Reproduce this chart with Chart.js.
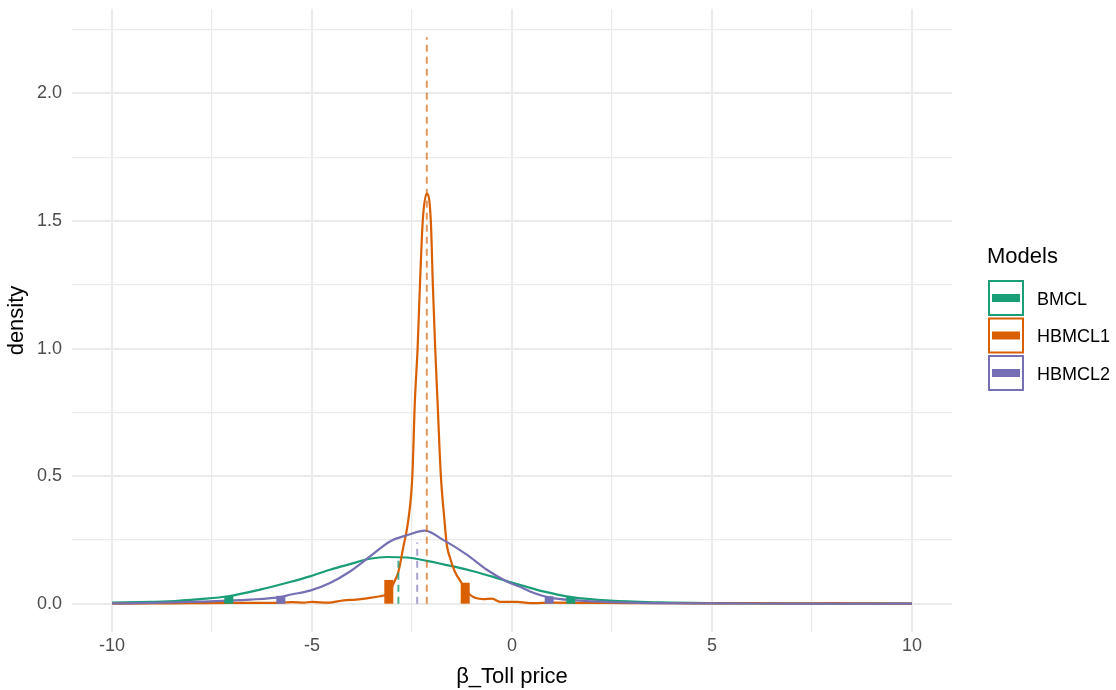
<!DOCTYPE html>
<html>
<head>
<meta charset="utf-8">
<script src="https://cdn.jsdelivr.net/npm/chart.js@4.4.1/dist/chart.umd.min.js"></script>
<style>
  body { margin: 0; background: #fff; }
  #wrap { width: 1116px; height: 690px; }
</style>
</head>
<body>
<div id="wrap"><canvas id="myChart" width="1116" height="690"></canvas></div>
<script>
// density curves
const bmclX = [-10, -9, -8.6, -7.8, -7.1, -6.3, -5.55, -5.05, -4.55, -4.05, -3.55, -3.13, -2.63, -2.13, -1.47, -0.97, -0.47, -0.05, 0.5, 0.78, 1.48, 2.45, 3.7, 5, 6, 8, 10];
const bmclY = [0.004, 0.007, 0.009, 0.018, 0.029, 0.055, 0.085, 0.107, 0.133, 0.155, 0.176, 0.183, 0.181, 0.168, 0.146, 0.127, 0.105, 0.085, 0.06, 0.048, 0.026, 0.012, 0.005, 0.002, 0.001, 0.0005, 0.0002];

const hbmcl1X = [-10, -9, -8, -7, -6, -5.5, -5.2, -5, -4.6, -4.2, -3.9, -3.63, -3.3, -3.1, -2.93, -2.84, -2.72, -2.59, -2.49, -2.43, -2.36, -2.3, -2.23, -2.13, -2.03, -1.98, -1.92, -1.86, -1.78, -1.69, -1.63, -1.55, -1.43, -1.26, -1.05, -0.72, -0.5, -0.3, 0.12, 0.53, 1, 2, 3, 4, 5, 6, 7, 8, 9, 10];
const hbmcl1Y = [0, 0.001, 0.002, 0.003, 0.003, 0.006, 0.004, 0.007, 0.004, 0.013, 0.016, 0.021, 0.029, 0.04, 0.09, 0.125, 0.22, 0.33, 0.505, 0.787, 1.0, 1.255, 1.503, 1.607, 1.503, 1.255, 1.0, 0.787, 0.505, 0.33, 0.231, 0.18, 0.126, 0.081, 0.035, 0.018, 0.02, 0.007, 0.007, 0.002, 0.004, 0.003, 0.002, 0.002, 0.001, 0.002, 0.001, 0.002, 0.001, 0];

const hbmcl2X = [-10, -9, -7.8, -6.55, -5.76, -5.55, -5.05, -4.55, -4.05, -3.55, -3.05, -2.59, -2.18, -1.72, -1.13, -0.63, -0.13, 0.2, 0.45, 0.95, 1.62, 2.45, 3.5, 5, 7, 10];
const hbmcl2Y = [0.001, 0.003, 0.008, 0.016, 0.027, 0.035, 0.051, 0.081, 0.126, 0.185, 0.244, 0.27, 0.286, 0.25, 0.192, 0.133, 0.087, 0.066, 0.048, 0.024, 0.013, 0.006, 0.002, 0.001, 0.0005, 0.0002];

// means (dashed lines) and their heights
const meanX = [-2.84, -2.13, -2.37];
const meanTop = [0.172, 2.22, 0.24];

// 2.5% / 97.5% quantile markers
const qLowX = [-7.08, -3.08, -5.78];
const qLowY = [0.03, 0.093, 0.031];
const qHighX = [1.47, -1.17, 0.93];
const qHighY = [0.027, 0.082, 0.029];

const models = ['BMCL', 'HBMCL1', 'HBMCL2'];
const colors = ['#1B9E77', '#D95F02', '#7570B3'];
const dashColors = ['rgba(27,158,119,0.8)', 'rgba(217,95,2,0.65)', 'rgba(117,112,179,0.65)'];

const xTicks = [-10, -7.5, -5, -2.5, 0, 2.5, 5, 7.5, 10];
const yTicks = [0, 0.25, 0.5, 0.75, 1, 1.25, 1.5, 1.75, 2, 2.25];

const FONT = '"Liberation Sans", Arial, sans-serif';

function pts(xs, ys) {
    return xs.map(function(x, i) { return {x: x, y: ys[i]}; });
}

function buildDatasets() {
    let ds = [];
    let curves = [[bmclX, bmclY], [hbmcl1X, hbmcl1Y], [hbmcl2X, hbmcl2Y]];
    let curveOrder = [4, 3, 2];
    curves.forEach(function(c, i) {
        ds.push({
            label: models[i],
            data: pts(c[0], c[1]),
            borderColor: colors[i],
            borderWidth: 2.2,
            pointRadius: 0,
            cubicInterpolationMode: 'monotone',
            order: curveOrder[i]
        });
    });
    // dashed mean lines
    for (let i = 0; i < 3; i++) {
        ds.push({
            data: [{x: meanX[i], y: 0}, {x: meanX[i], y: meanTop[i]}],
            borderColor: dashColors[i],
            borderWidth: 2,
            borderDash: [7, 5],
            pointRadius: 0,
            tension: 0,
            order: 1
        });
    }
    // quantile bars
    for (let i = 0; i < 3; i++) {
        [[qLowX[i], qLowY[i]], [qHighX[i], qHighY[i]]].forEach(function(q) {
            ds.push({
                data: [{x: q[0], y: 0}, {x: q[0], y: q[1]}],
                borderColor: colors[i],
                borderWidth: 9,
                borderCapStyle: 'butt',
                pointRadius: 0,
                tension: 0,
                order: 0
            });
        });
    }
    return ds;
}

// legend on the right, drawn like ggplot's
const legendPlugin = {
    id: 'modelsLegend',
    afterDraw: function(chart) {
        let c = chart.ctx;
        c.save();
        c.fillStyle = '#000';
        c.textBaseline = 'middle';
        c.textAlign = 'left';
        c.font = '22px ' + FONT;
        c.fillText('Models', 987, 257);
        c.font = '18px ' + FONT;
        for (let i = 0; i < models.length; i++) {
            let top = 281 + i * 37.5;
            c.strokeStyle = colors[i];
            c.lineWidth = 2;
            c.strokeRect(989, top, 34, 34);
            c.beginPath();
            c.lineWidth = 8;
            c.lineCap = 'butt';
            c.moveTo(992, top + 17);
            c.lineTo(1020, top + 17);
            c.stroke();
            c.fillStyle = '#000';
            c.fillText(models[i], 1037, top + 19);
        }
        c.restore();
    }
};

function showGraph() {
    let ctx = document.getElementById('myChart').getContext('2d');
    new Chart(ctx, {
        type: 'line',
        data: { datasets: buildDatasets() },
        plugins: [legendPlugin],
        options: {
            responsive: false,
            animation: false,
            devicePixelRatio: 1,
            layout: { padding: { left: 0, right: 164, top: 9, bottom: 0 } },
            plugins: {
                legend: { display: false },
                tooltip: { enabled: false }
            },
            scales: {
                x: {
                    type: 'linear',
                    min: -11,
                    max: 11,
                    afterBuildTicks: function(s) { s.ticks = xTicks.map(function(v) { return {value: v}; }); },
                    afterFit: function(s) { s.height = 58; s.paddingLeft = 0; s.paddingRight = 0; },
                    border: { display: false },
                    grid: {
                        color: '#EBEBEB',
                        drawTicks: false,
                        lineWidth: function(c) { return c.tick && c.tick.value % 5 === 0 ? 2 : 1.2; }
                    },
                    ticks: {
                        autoSkip: false,
                        maxRotation: 0,
                        padding: 3,
                        color: '#4D4D4D',
                        font: { family: FONT, size: 18 },
                        callback: function(v) { return v % 5 === 0 ? String(v) : ''; }
                    },
                    title: {
                        display: true,
                        text: 'β_Toll price',
                        color: '#000',
                        font: { family: FONT, size: 22 },
                        padding: { top: 0, bottom: 0 }
                    }
                },
                y: {
                    type: 'linear',
                    min: -0.111,
                    max: 2.331,
                    afterBuildTicks: function(s) { s.ticks = yTicks.map(function(v) { return {value: v}; }); },
                    afterFit: function(s) { s.width = 72; s.paddingTop = 0; s.paddingBottom = 0; },
                    border: { display: false },
                    grid: {
                        color: '#EBEBEB',
                        drawTicks: false,
                        lineWidth: function(c) { return c.tick && Math.abs(c.tick.value * 2 - Math.round(c.tick.value * 2)) < 1e-6 ? 2 : 1.2; }
                    },
                    ticks: {
                        autoSkip: false,
                        padding: 10,
                        color: '#4D4D4D',
                        font: { family: FONT, size: 18 },
                        callback: function(v) {
                            return Math.abs(v * 2 - Math.round(v * 2)) < 1e-6 ? v.toFixed(1) : '';
                        }
                    },
                    title: {
                        display: true,
                        text: 'density',
                        color: '#000',
                        font: { family: FONT, size: 22 },
                        padding: { top: 4, bottom: 0 }
                    }
                }
            }
        }
    });
}

showGraph();
</script>
</body>
</html>
